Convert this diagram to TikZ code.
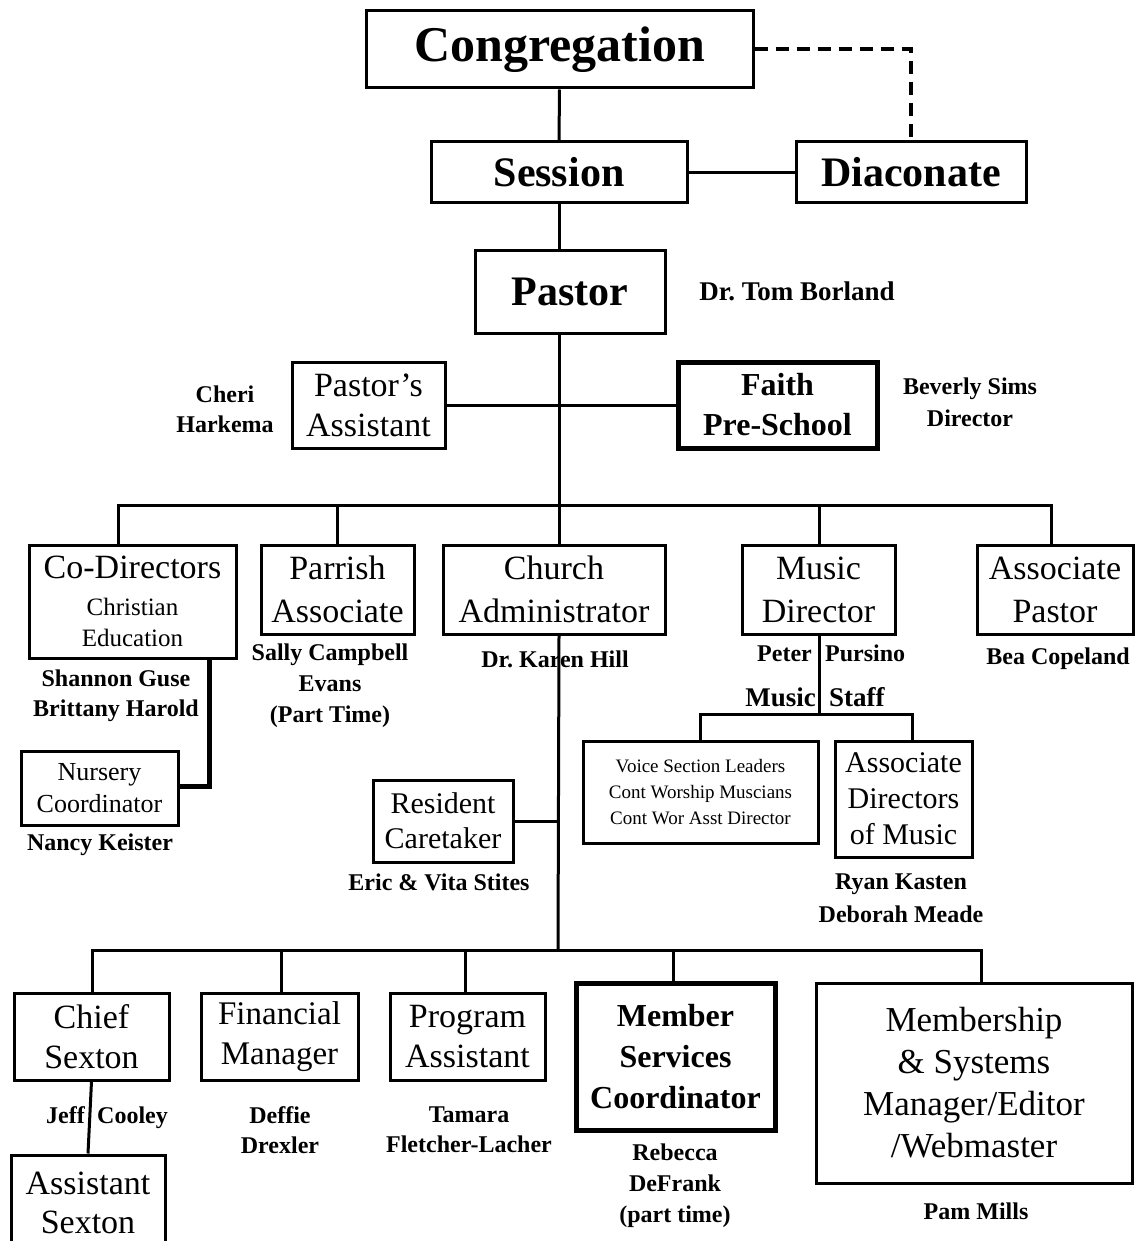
\documentclass[tikz,border=0pt]{standalone}
\usepackage{fontspec}
\setmainfont{Liberation Serif}
\newcommand\fsz[2]{\fontsize{#1}{#2}\selectfont}
\tikzset{
  box/.style={draw, line width=3pt, inner sep=0pt, align=center, font=\fsz{34}{42}},
  heavybox/.style={box, line width=5pt},
  nm/.style={inner sep=0pt, align=center, font=\bfseries\fsz{24}{30}},
  ln/.style={line width=3pt},
  fatln/.style={line width=5pt},
}
\begin{document}
\begin{tikzpicture}[x=1pt,y=-1pt]
\useasboundingbox (0,0) rectangle (1139,1241);
% boxes
\node[box, font=\bfseries\fsz{50}{60}, minimum width=387pt, minimum height=77pt] (cong) at (559.5,49.5) {Congregation};
\node[box, font=\bfseries\fsz{42}{50}, minimum width=256pt, minimum height=61pt] (sess) at (559,172.5) {Session};
\node[box, font=\bfseries\fsz{42}{50}, minimum width=230pt, minimum height=61pt] (diac) at (911,172.5) {Diaconate};
\node[box, font=\bfseries\fsz{42}{50}, minimum width=190pt, minimum height=82pt] (past) at (570,292) {Pastor};
\node[box, font=\fsz{34}{40}, minimum width=153pt, minimum height=86pt] (passt) at (368.5,405) {Pastor’s\\Assistant};
\node[heavybox, font=\bfseries\fsz{32}{40}, minimum width=199pt, minimum height=86pt] (faith) at (777.5,405) {Faith\\Pre-School};
\node[box, font=\fsz{34}{37}, minimum width=207pt, minimum height=113pt] (codir) at (132.5,601.5) {Co-Directors\\{\fsz{25}{31}Christian}\\[-6pt]{\fsz{25}{31}Education}};
\node[box, font=\fsz{34}{43}, minimum width=153pt, minimum height=89pt] (parr) at (337.5,589.5) {Parrish\\Associate};
\node[box, font=\fsz{34}{43}, minimum width=222pt, minimum height=89pt] (chad) at (554,589.5) {Church\\Administrator};
\node[box, font=\fsz{34}{43}, minimum width=153pt, minimum height=89pt] (musd) at (818.5,589.5) {Music\\Director};
\node[box, font=\fsz{34}{43}, minimum width=156pt, minimum height=89pt] (asp) at (1055,589.5) {Associate\\Pastor};
\node[box, font=\fsz{19}{26}, minimum width=235pt, minimum height=102pt] (voice) at (700.5,792) {Voice Section Leaders\\Cont Worship Muscians\\Cont Wor Asst Director};
\node[box, font=\fsz{30}{36}, minimum width=137pt, minimum height=116pt] (adm) at (903.5,799) {Associate\\Directors\\of Music};
\node[box, font=\fsz{26}{32}, minimum width=157pt, minimum height=74pt] (nurs) at (99.5,788) {Nursery\\Coordinator};
\node[box, font=\fsz{30}{35}, minimum width=140pt, minimum height=82pt] (resc) at (443,821) {Resident\\Caretaker};
\node[box, font=\fsz{34}{40}, minimum width=155pt, minimum height=87pt] (chsx) at (91.5,1036.5) {Chief\\Sexton};
\node[box, font=\fsz{33}{40}, minimum width=157pt, minimum height=87pt] (finm) at (279.5,1036.5) {Financial\\Manager};
\node[box, font=\fsz{34}{40}, minimum width=155pt, minimum height=87pt] (proga) at (467.5,1036.5) {Program\\Assistant};
\node[heavybox, font=\bfseries\fsz{32}{41}, minimum width=199pt, minimum height=147pt] (msc) at (675.5,1056.5) {Member\\Services\\Coordinator};
\node[box, font=\fsz{35}{42}, minimum width=316pt, minimum height=200pt] (msm) at (974,1083) {Membership\\\&~Systems\\Manager/Editor\\/Webmaster};
\node[box, font=\fsz{34}{39}, minimum width=154pt, minimum height=95pt] (assx) at (88,1202.5) {Assistant\\Sexton};
% name labels
\node[nm, font=\bfseries\fsz{27}{32}] (ltom) at (797,291) {Dr.\ Tom Borland};
\node[nm] (lcheri) at (225,409) {Cheri\\Harkema};
\node[nm, font=\bfseries\fsz{24}{32}] (lbev) at (970,402) {Beverly Sims\\Director};
\node[nm] (lcodir) at (116,696) {Shannon Guse\\Brittany Harold};
\node[nm, font=\bfseries\fsz{24}{31}] (lsally) at (330,686) {Sally Campbell\\Evans\\(Part Time)};
\node[nm] (lkaren) at (555,659) {Dr.\ Karen Hill};
\node[nm, anchor=base east] (lpeter) at (812,661) {Peter};
\node[nm, anchor=base west] (lpurs) at (825,661) {Pursino};
\node[nm, font=\bfseries\fsz{27}{32}, anchor=base east] (lmusic) at (816,706) {Music};
\node[nm, font=\bfseries\fsz{27}{32}, anchor=base west] (lstaff) at (829,706) {Staff};
\node[nm] (lbea) at (1058,659) {Bea Copeland};
\node[nm, font=\bfseries\fsz{24}{33}] (lryan) at (901,898.5) {Ryan Kasten\\Deborah Meade};
\node[nm] (lnancy) at (100,845) {Nancy Keister};
\node[nm] (leric) at (439,882) {Eric \& Vita Stites};
\node[nm, anchor=base east] (ljeff) at (85,1123) {Jeff};
\node[nm, anchor=base west] (lcool) at (97,1123) {Cooley};
\node[nm] (ldeff) at (280,1130) {Deffie\\Drexler};
\node[nm] (ltam) at (469,1130) {Tamara\\Fletcher-Lacher};
\node[nm, font=\bfseries\fsz{24}{31}] (lreb) at (675,1186) {Rebecca\\DeFrank\\(part time)};
\node[nm] (lpam) at (976,1211) {Pam Mills};
% coordinates
\coordinate (b1a) at (118,505);
\coordinate (b1b) at (337,505);
\coordinate (b1c) at (559,505);
\coordinate (b1d) at (819,505);
\coordinate (b1e) at (1051,505);
\coordinate (b2a) at (92,950);
\coordinate (b2b) at (281,950);
\coordinate (b2c) at (465,950);
\coordinate (b2m) at (558,950);
\coordinate (b2d) at (673,950);
\coordinate (b2e) at (981,950);
\coordinate (ms) at (819,714);
\coordinate (msL) at (700,714);
\coordinate (msR) at (912,714);
\coordinate (cn) at (209,786);
% connectors
\draw[line width=4pt, dash pattern=on 13pt off 8pt] (cong.east) -| (diac.north);
\draw[ln] (cong.south) -- (sess.north);
\draw[ln] (sess.east) -- (diac.west);
\draw[ln] (sess.south) -- (sess.south |- past.north);
\draw[ln] (past.south -| b1c) -- (chad.north -| b1c);
\draw[ln] (passt.east) -- (faith.west);
\draw[ln] (b1a |- codir.north) -- (b1a) -- (b1e) -- (b1e |- asp.north);
\draw[ln] (b1b) -- (b1b |- parr.north);
\draw[ln] (b1d) -- (b1d |- musd.north);
\draw[ln] (chad.south -| b1c) -- (b2m);
\draw[ln] (resc.east) -- (resc.east -| b1c);
\draw[ln] (musd.south -| ms) -- (ms);
\draw[ln] (msL |- voice.north) -- (msL) -- (msR) -- (msR |- adm.north);
\draw[fatln] (codir.south -| cn) -- (cn) -- (nurs.east |- cn);
\draw[ln] (b2a |- chsx.north) -- (b2a) -- (b2e) -- (b2e |- msm.north);
\draw[ln] (b2b) -- (b2b |- finm.north);
\draw[ln] (b2c) -- (b2c |- proga.north);
\draw[ln] (b2d) -- (b2d |- msc.north);
\draw[ln] (chsx.south) -- (assx.north);
\end{tikzpicture}
\end{document}
